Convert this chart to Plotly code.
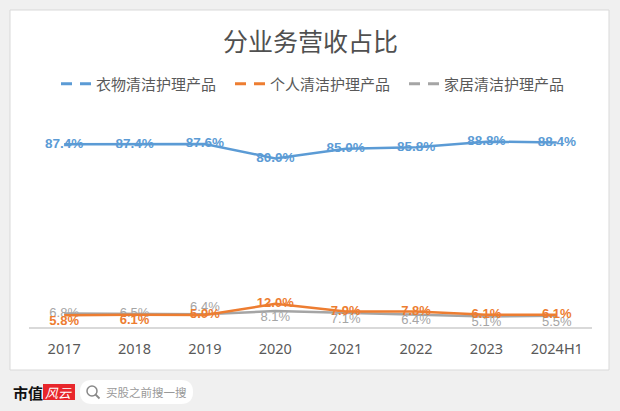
import plotly.graph_objects as go

categories = ["2017", "2018", "2019", "2020", "2021", "2022", "2023", "2024H1"]
clothing = [87.4, 87.4, 87.6, 80.0, 85.0, 85.8, 88.8, 88.4]
personal = [5.8, 6.1, 5.9, 12.0, 7.9, 7.8, 6.1, 6.1]
home = [6.8, 6.5, 6.4, 8.1, 7.1, 6.4, 5.1, 5.5]
series_names = ["衣物清洁护理产品", "个人清洁护理产品", "家居清洁护理产品"]
title_text = "分业务营收占比"

BLUE, ORANGE, GRAY = "#5b9bd5", "#ed7d31", "#a5a5a5"
TXT = "#595959"
W, H = 620, 411
CJK = "Noto Sans CJK SC"


def px(x):
    return x / W


def py(y):
    return 1 - y / H


def fmt(v):
    return [f"{a:.1f}%" for a in v]


pos_personal = ["bottom center", "bottom center", "middle center", "middle center",
                "middle center", "middle center", "middle center", "middle center"]
pos_home = ["middle center", "middle center", "top center", "bottom center",
            "bottom center", "bottom center", "bottom center", "bottom center"]

fig = go.Figure()
fig.add_trace(go.Scatter(
    x=categories, y=clothing, yaxis="y2", mode="lines+text", text=fmt(clothing),
    textposition="middle center", line=dict(color=BLUE, width=2.5),
    textfont=dict(color=BLUE, size=13.5, family="Liberation Sans", weight="bold"),
    showlegend=False, cliponaxis=False, hoverinfo="skip"))
fig.add_trace(go.Scatter(
    x=categories, y=home, mode="lines+text", text=fmt(home),
    textposition=pos_home, line=dict(color=GRAY, width=2.5),
    textfont=dict(color=GRAY, size=13, family="Liberation Sans"),
    showlegend=False, cliponaxis=False, hoverinfo="skip"))
fig.add_trace(go.Scatter(
    x=categories, y=personal, mode="lines+text", text=fmt(personal),
    textposition=pos_personal, line=dict(color=ORANGE, width=2.5),
    textfont=dict(color=ORANGE, size=13, family="Liberation Sans", weight="bold"),
    showlegend=False, cliponaxis=False, hoverinfo="skip"))

for name, col in zip(series_names, [BLUE, ORANGE, GRAY]):
    fig.add_trace(go.Scatter(x=[None], y=[None], mode="lines", name=name,
                             line=dict(color=col, width=3, dash="11px,8px")))

shapes = [
    dict(type="rect", xref="paper", yref="paper", x0=px(10), x1=px(609), y0=py(370), y1=py(10),
         fillcolor="white", line=dict(color="#d9d9d9", width=1), layer="below"),
    dict(type="rect", xref="paper", yref="paper", x0=px(43), x1=px(75), y0=py(400), y1=py(384),
         fillcolor="#e8262b", line=dict(width=0), layer="below"),
]
# search pill
x0, x1, y0, y1, r = 80, 193, 380, 404, 12
path = (f"M{px(x0 + r)},{py(y0)} L{px(x1 - r)},{py(y0)} Q{px(x1)},{py(y0)} {px(x1)},{py((y0 + y1) / 2)} "
        f"Q{px(x1)},{py(y1)} {px(x1 - r)},{py(y1)} L{px(x0 + r)},{py(y1)} "
        f"Q{px(x0)},{py(y1)} {px(x0)},{py((y0 + y1) / 2)} Q{px(x0)},{py(y0)} {px(x0 + r)},{py(y0)} Z")
shapes.append(dict(type="path", xref="paper", yref="paper", path=path,
                   fillcolor="white", line=dict(width=0), layer="below"))
shapes.append(dict(type="circle", xref="paper", yref="paper", x0=px(87), x1=px(97),
                   y0=py(396), y1=py(386), line=dict(color="#888888", width=1.5), layer="above"))
shapes.append(dict(type="line", xref="paper", yref="paper", x0=px(95.5), x1=px(99.5),
                   y0=py(394.5), y1=py(398.5), line=dict(color="#888888", width=1.8), layer="above"))

annotations = [
    dict(text=title_text, x=0.5, y=py(40), xref="paper", yref="paper", showarrow=False,
         xanchor="center", yanchor="middle", font=dict(family=CJK, size=25, color="#505050")),
    dict(text="<b>市值</b>", x=px(11), y=py(392), xref="paper", yref="paper", showarrow=False,
         xanchor="left", yanchor="middle", font=dict(family=CJK, size=15, color="#111111")),
    dict(text="<i>风云</i>", x=px(59), y=py(392), xref="paper", yref="paper", showarrow=False,
         xanchor="center", yanchor="middle", font=dict(family=CJK, size=13, color="white")),
    dict(text="买股之前搜一搜", x=px(104), y=py(392), xref="paper", yref="paper", showarrow=False,
         xanchor="left", yanchor="middle", font=dict(family=CJK, size=11.5, color="#999999")),
]

fig.update_layout(
    width=W, height=H, margin=dict(l=0, r=0, t=0, b=0),
    paper_bgcolor="#f0f0f0", plot_bgcolor="rgba(0,0,0,0)",
    shapes=shapes, annotations=annotations, hovermode=False,
    legend=dict(orientation="h", x=px(56), xanchor="left", y=py(84), yanchor="middle",
                font=dict(family=CJK, size=15, color=TXT), bgcolor="rgba(0,0,0,0)",
                traceorder="normal", entrywidth=129, entrywidthmode="pixels"),
    xaxis=dict(domain=[px(29), px(592)], type="category", range=[-0.5, 7.5],
               showgrid=False, zeroline=False, showline=True, linecolor="#d9d9d9", linewidth=2,
               ticks="", ticklabelstandoff=8,
               tickfont=dict(family="Noto Sans", size=14.5, color=TXT)),
    yaxis=dict(domain=[py(327), py(100)], range=[-0.54, 122.2], visible=False),
    yaxis2=dict(domain=[py(327), py(100)], overlaying="y", range=[-8.7, 110.7], visible=False),
)

fig.write_html("out.html", config={"displayModeBar": False},
               post_script="document.body.style.margin='0';document.body.style.overflow='hidden';")
